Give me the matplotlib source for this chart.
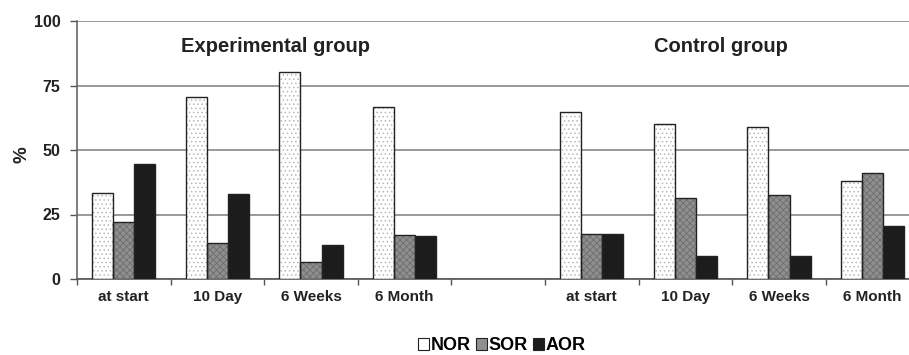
import matplotlib
matplotlib.use("Agg")
import matplotlib.pyplot as plt
import numpy as np
from matplotlib.patches import Patch

categories = ["at start", "10 Day", "6 Weeks", "6 Month", "", "at start", "10 Day", "6 Weeks", "6 Month"]
series_names = ["NOR", "SOR", "AOR"]
nor = [33.3, 70.6, 80.2, 66.7, np.nan, 64.9, 60.0, 58.8, 38.1]
sor = [22.2, 14.0, 6.7, 16.9, np.nan, 17.6, 31.3, 32.6, 41.2]
aor = [44.5, 33.0, 13.1, 16.6, np.nan, 17.6, 8.9, 8.9, 20.7]
yticks = [0, 25, 50, 75, 100]
group_titles = ["Experimental group", "Control group"]

plt.rcParams['font.family'] = ['Liberation Sans', 'DejaVu Sans']
plt.rcParams['font.weight'] = 'bold'
plt.rcParams['hatch.linewidth'] = 0.6

fig = plt.figure(figsize=(9.09, 3.55), dpi=100)
W, H = 909, 355
ax = fig.add_axes([77 / W, (H - 279) / H, 9 * 93.6 / W, (279 - 21) / H])

x = np.arange(len(categories))
bw = 0.225
fills = ["white", "#8f8f8f", "#1c1c1c"]
hatches = ["....", "xxxxx", None]
hatch_cols = ["#b8b8b8", "#6e6e6e", "#1c1c1c"]
for i, (vals, fc, hc, hcol) in enumerate(zip([nor, sor, aor], fills, hatches, hatch_cols)):
    pos = x + (i - 1) * bw
    ax.bar(pos, vals, bw, color=fc, hatch=hc, edgecolor=hcol, linewidth=0, zorder=3)
    ax.bar(pos, vals, bw, fill=False, edgecolor="#222222", linewidth=1.0, zorder=4)

ax.set_xlim(-0.5, 8.5)
ax.set_ylim(0, 100)
ax.set_yticks(yticks)
ax.set_yticklabels([str(t) for t in yticks], fontsize=11.5, fontweight='bold', color="#222222")
ax.yaxis.grid(True, color="#888888", linewidth=1.2, zorder=0)
ax.set_axisbelow(True)

ax.set_xticks(x)
ax.set_xticklabels(categories, fontsize=11, fontweight='bold', color="#222222")
ax.tick_params(axis='x', which='major', length=0, pad=8)
ax.set_xticks(np.arange(-0.5, 9, 1.0), minor=True)
ax.tick_params(axis='x', which='minor', length=4, color="#555555", width=1)
ax.tick_params(axis='y', length=5, color="#555555", width=1, pad=7)

for side in ["top", "right"]:
    ax.spines[side].set_visible(False)
ax.spines["left"].set_color("#666666")
ax.spines["left"].set_linewidth(1.2)
ax.spines["bottom"].set_color("#555555")
ax.spines["bottom"].set_linewidth(1.2)

fig.text(22 / W, (H - 155) / H, "%", rotation=90, ha='center', va='center',
         fontsize=13.5, fontweight='bold', color="#222222")

ax.text(1.62, 90, group_titles[0], ha='center', va='center', fontsize=14.5, fontweight='bold', color="#222222")
ax.text(6.38, 90, group_titles[1], ha='center', va='center', fontsize=14.5, fontweight='bold', color="#222222")

handles = [Patch(facecolor=fc, edgecolor="#222222", linewidth=0.8) for fc in fills]
fig.legend(handles, series_names, loc='center', bbox_to_anchor=(502 / W, (H - 346) / H), ncol=3,
           frameon=False, handlelength=0.6, handleheight=0.6, handletextpad=0.1, columnspacing=0.3,
           prop={'size': 13, 'weight': 'bold'})

fig.savefig("out.png", dpi=100, facecolor="white")
